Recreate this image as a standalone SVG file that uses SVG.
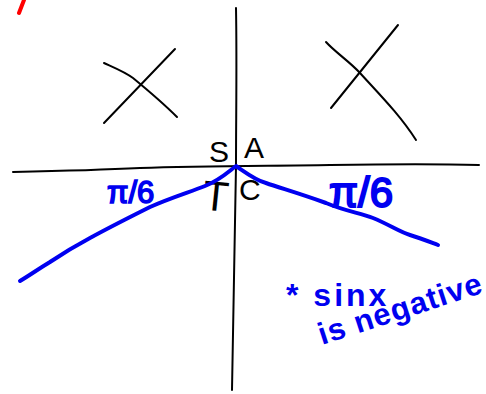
<svg xmlns="http://www.w3.org/2000/svg" width="486" height="394" viewBox="0 0 486 394">
<style>
.k{fill:none;stroke:#000;stroke-width:2;stroke-linecap:round;stroke-linejoin:round}
.b{fill:none;stroke:#0000f0;stroke-width:4;stroke-linecap:round;stroke-linejoin:round}
.kt{font-family:"Liberation Sans",Arial,sans-serif;fill:#000;font-size:30px}
.bt{font-family:"Liberation Sans",Arial,sans-serif;fill:#0000f0}
</style>
<rect width="486" height="394" fill="#fff"/>
<path d="M19,13 L24,0" fill="none" stroke="#f00" stroke-width="4" stroke-linecap="round"/>
<g id="axes">
<path class="k" d="M236,8 C237,60 236,120 236,166 C235,230 233,300 232,390"/>
<path class="k" d="M13,172 C60,171 100,170 140,168 C200,166 260,166 330,165 C400,164 440,164 479,165"/>
</g>
<g id="crosses">
<path class="k" d="M104,63 C115,68 125,72 133,78 C150,92 165,105 177,117"/>
<path class="k" d="M175,49 L104,123"/>
<path class="k" d="M326,42 C335,52 350,62 360,73 C380,95 400,115 416,140"/>
<path class="k" d="M398,25 L331,108"/>
</g>
<g id="labels">
<text class="kt" x="209" y="162">S</text>
<text class="kt" x="244" y="158">A</text>
<text class="kt" x="203" y="211" style="font-size:42px" transform="rotate(6 218 195)">T</text>
<text class="kt" x="239" y="200">C</text>
</g>
<g id="refangle">
<path class="b" d="M20,281 C30,275 40,268 50,262 C65,252 75,246 90,238 C110,227 120,222 150,207 C170,198 190,192 205,186 C220,180 228,172 236,166 C245,172 255,180 266,183 C280,188 295,192 326,203 C345,211 360,213 373,218 C390,225 400,232 410,235 C420,238 430,242 438,245"/>
<text class="bt" x="107" y="203" style="font-size:31px" stroke="#0000f0" stroke-width="1.6">π/6</text>
<text class="bt" x="329" y="207" style="font-size:42px" stroke="#0000f0" stroke-width="2">π/6</text>
</g>
<g id="note">
<text class="bt" x="286" y="306" style="font-size:32px;font-weight:bold" letter-spacing="3">* sinx</text>
<text class="bt" x="322" y="345" style="font-size:31px;font-weight:bold" letter-spacing="1" transform="rotate(-18 322 345)">is negative</text>
</g>
</svg>
